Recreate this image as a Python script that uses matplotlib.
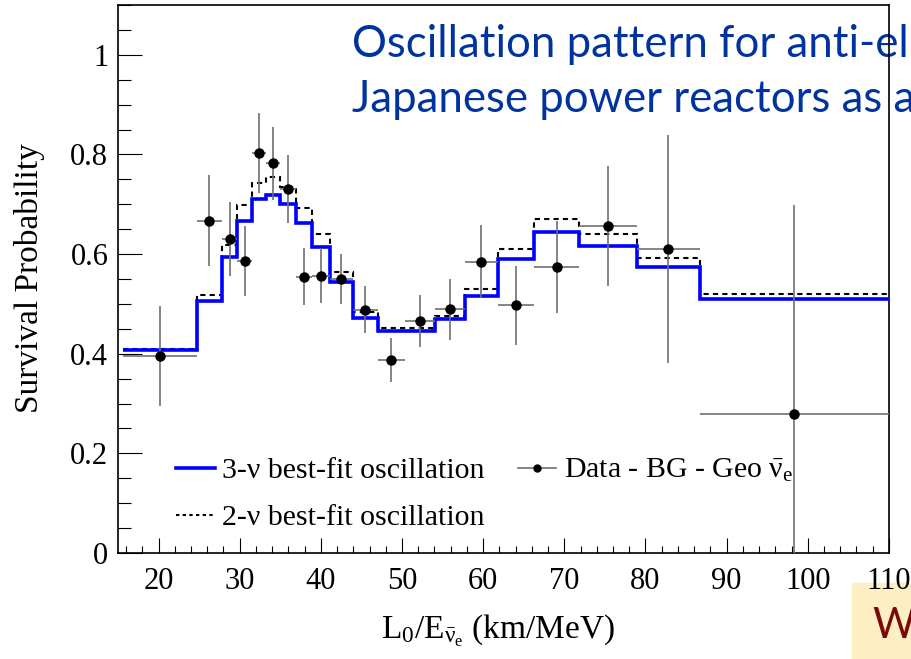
import numpy as np
import matplotlib
matplotlib.use("Agg")
import matplotlib.pyplot as plt
from matplotlib.lines import Line2D
from matplotlib.patches import Rectangle
from matplotlib.ticker import MultipleLocator, FuncFormatter

# L0/E bin edges (km/MeV)
bin_edges = [15.6, 24.7, 27.8, 29.7, 31.5, 33.2, 35.0, 36.9, 38.9, 41.1, 43.9,
             47.0, 50.4, 54.1, 57.7, 61.8, 66.3, 71.8, 78.9, 86.7, 110.0]

# data - BG - geo anti-nu_e, survival probability per bin
data_prob = [0.396, 0.667, 0.630, 0.586, 0.803, 0.782, 0.730, 0.555, 0.557, 0.550,
             0.488, 0.387, 0.466, 0.489, 0.585, 0.497, 0.574, 0.656, 0.610, 0.279]
data_err = [0.100, 0.091, 0.074, 0.070, 0.080, 0.073, 0.068, 0.058, 0.055, 0.050,
            0.047, 0.044, 0.052, 0.061, 0.074, 0.079, 0.092, 0.120, 0.229, 0.420]

# best-fit oscillation expectations per bin
fit_3nu = [0.408, 0.505, 0.595, 0.667, 0.711, 0.719, 0.700, 0.662, 0.615, 0.545,
           0.472, 0.446, 0.446, 0.469, 0.515, 0.590, 0.644, 0.617, 0.575, 0.509]
fit_2nu = [0.410, 0.517, 0.618, 0.699, 0.742, 0.754, 0.734, 0.692, 0.641, 0.565,
           0.483, 0.451, 0.451, 0.476, 0.530, 0.610, 0.670, 0.641, 0.592, 0.520]

plt.rcParams['font.family'] = ['Liberation Serif', 'DejaVu Serif']
plt.rcParams['mathtext.fontset'] = 'custom'
plt.rcParams['mathtext.rm'] = 'Liberation Serif'
plt.rcParams['mathtext.it'] = 'Liberation Serif:italic'

fig = plt.figure(figsize=(9.11, 6.59), dpi=100)
ax = fig.add_axes([0.1295, 0.1608, 0.8463, 0.8316])
ax.set_facecolor('none')

edges = np.array(bin_edges)
centers = (edges[:-1] + edges[1:]) / 2
half = (edges[1:] - edges[:-1]) / 2

ax.stairs(fit_2nu, edges, baseline=None, color='k', lw=1.5, ls=(0, (2.5, 2)), zorder=2)
ax.stairs(fit_3nu, edges, baseline=None, color='#0000ff', lw=2.6, zorder=3)
ax.errorbar(centers, data_prob, yerr=data_err, xerr=half, fmt='o', color='k', ms=6.5,
            ecolor='#707070', elinewidth=1.2, capsize=0, zorder=4)

ax.set_xlim(15, 110)
ax.set_ylim(0, 1.1)
ax.xaxis.set_major_locator(MultipleLocator(10))
ax.xaxis.set_minor_locator(MultipleLocator(2))
ax.yaxis.set_major_locator(MultipleLocator(0.2))
ax.yaxis.set_minor_locator(MultipleLocator(0.05))
ax.yaxis.set_major_formatter(FuncFormatter(lambda v, p: f"{v:g}"))
ax.tick_params(which='both', direction='in', top=False, right=False, width=0.8, labelsize=22)
ax.tick_params(axis='x', which='major', length=11, pad=10)
ax.tick_params(axis='x', which='minor', length=5)
ax.tick_params(axis='y', which='major', length=17, pad=7)
ax.tick_params(axis='y', which='minor', length=9)
for s in ax.spines.values():
    s.set_linewidth(1.2)

ax.set_ylabel("Survival Probability", fontsize=24)
ax.yaxis.set_label_coords(-0.095, 0.502)
ax.set_xlabel(r"L$_0$/E$_{\bar{\mathrm{\nu}}_\mathrm{e}}$ (km/MeV)", fontsize=24)
ax.xaxis.set_label_coords(0.493, -0.11)

handles = [Line2D([], [], color='#0000ff', lw=2.6),
           Line2D([], [], color='k', lw=1.5, ls=(0, (1.6, 1.6))),
           Line2D([], [], color='#707070', lw=1.2, marker='o', ms=5, mfc='k', mec='k')]
labels = ["3-ν best-fit oscillation", "2-ν best-fit oscillation",
          r"Data - BG - Geo $\bar{\mathrm{\nu}}_\mathrm{e}$"]
ax.legend(handles, labels, ncol=2, loc='upper left', bbox_to_anchor=(0.0752, 0.175),
          frameon=False, fontsize=21.5, handlelength=1.3, handletextpad=0.25,
          columnspacing=1.1, labelspacing=0.68, borderaxespad=0, borderpad=0)

# slide overlay: heading and side box
fig.text(352 / 911, 1 - 57 / 659, "Oscillation pattern for anti-el",
         family='Lato', fontsize=31.5, color='#0033a0', va='baseline', zorder=-1)
fig.text(352 / 911, 1 - 112 / 659, "Japanese power reactors as a",
         family='Lato', fontsize=31.5, color='#0033a0', va='baseline', zorder=-1)
fig.add_artist(Rectangle((852 / 911, 0), 59 / 911, 76 / 659, transform=fig.transFigure,
                         color='#fdeec4', zorder=-2))
fig.text(872 / 911, 1 - 638 / 659, "W", family='Lato', fontsize=30,
         color='#7a0a0a', va='baseline', zorder=-1)

fig.savefig("out.png", dpi=100)
